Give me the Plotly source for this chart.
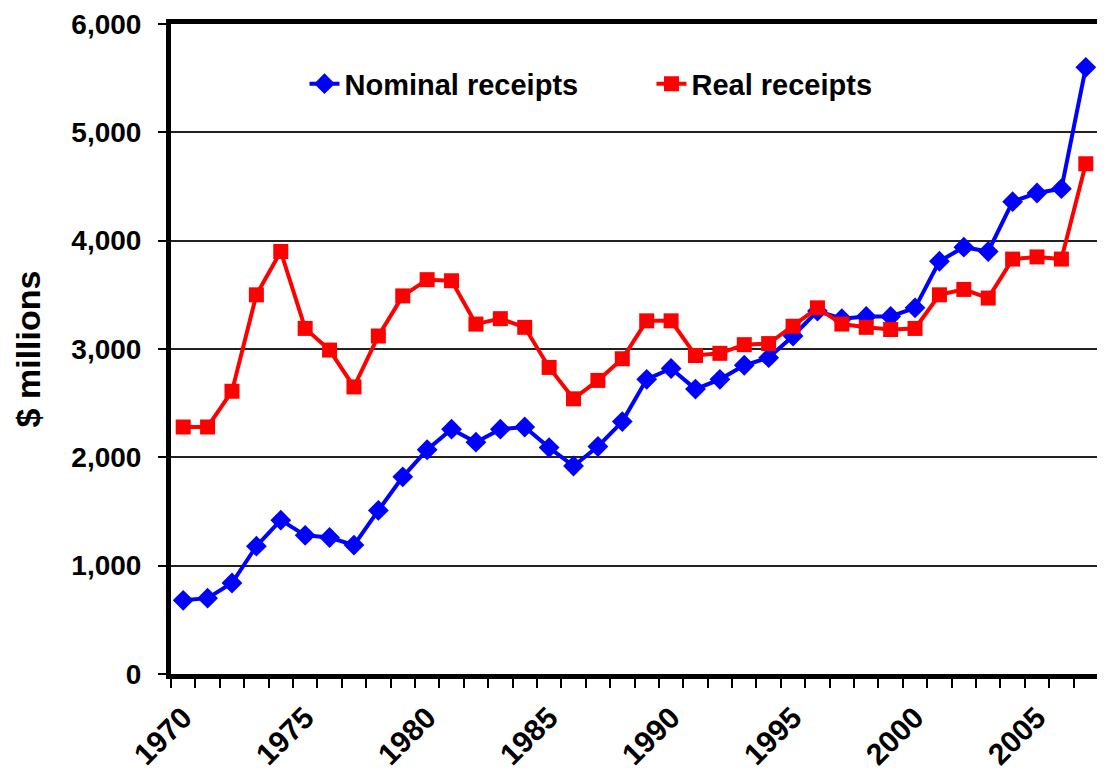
import plotly.graph_objects as go

years = list(range(1970, 2008))
nominal = [680, 700, 840, 1180, 1420, 1280, 1260, 1190, 1510, 1820,
           2070, 2260, 2140, 2260, 2280, 2090, 1920, 2100, 2330, 2720,
           2820, 2630, 2720, 2850, 2920, 3120, 3350, 3280, 3300, 3300,
           3380, 3810, 3940, 3900, 4360, 4440, 4480, 5600]
real = [2280, 2280, 2610, 3500, 3900, 3190, 2990, 2650, 3120, 3490,
        3640, 3630, 3230, 3280, 3200, 2830, 2540, 2710, 2910, 3260,
        3260, 2940, 2960, 3040, 3050, 3210, 3380, 3230, 3200, 3180,
        3190, 3500, 3550, 3470, 3830, 3850, 3830, 4710]
label_years = [1970, 1975, 1980, 1985, 1990, 1995, 2000, 2005]
y_ticks = [0, 1000, 2000, 3000, 4000, 5000, 6000]

FONT = "Arial, Liberation Sans, sans-serif"

fig = go.Figure()
fig.add_trace(go.Scatter(
    x=years, y=nominal, name="Nominal receipts", mode="lines+markers",
    line=dict(color="#0000FF", width=4),
    marker=dict(symbol="diamond", size=16, color="#0000FF"),
))
fig.add_trace(go.Scatter(
    x=years, y=real, name="Real receipts", mode="lines+markers",
    line=dict(color="#FF0000", width=4),
    marker=dict(symbol="square", size=15, color="#FF0000"),
))

fig.update_layout(
    width=1097, height=776,
    margin=dict(l=163, r=7, t=16, b=110),
    paper_bgcolor="white", plot_bgcolor="white",
    showlegend=True,
    legend=dict(
        orientation="h", x=0.144, y=0.908, xanchor="left", yanchor="middle",
        bgcolor="rgba(0,0,0,0)",
        font=dict(family=FONT, size=29, color="black", weight="bold"),
        entrywidth=302, entrywidthmode="pixels",
    ),
    xaxis=dict(
        range=[1969.5, 2007.5],
        automargin=False,
        tickmode="array", tickvals=label_years,
        ticktext=[str(v) for v in label_years],
        tickangle=-45,
        ticks="outside", ticklen=9, tickcolor="rgba(0,0,0,0)",
        tickfont=dict(family=FONT, size=30, color="black", weight="bold"),
        minor=dict(tickvals=[y - 0.5 for y in years] + [2007.5], ticks="outside",
                   ticklen=9, tickwidth=1.5, tickcolor="black", showgrid=False),
        showline=True, linewidth=5, linecolor="black", mirror=True,
        showgrid=False, zeroline=False,
    ),
    yaxis=dict(
        range=[0, 6000],
        automargin=False,
        tickmode="array", tickvals=y_ticks,
        ticktext=[f"{v:,}" for v in y_ticks],
        ticks="outside", ticklen=8, tickwidth=1.5, tickcolor="black",
        ticklabelstandoff=11, ticklabeloverflow="allow",
        tickfont=dict(family=FONT, size=28, color="black", weight="bold"),
        showline=True, linewidth=5, linecolor="black", mirror=True,
        showgrid=True, gridcolor="#222222", gridwidth=1.5,
        zeroline=False,
        title=dict(text="$ millions", standoff=22,
                   font=dict(family=FONT, size=34, color="black", weight="bold")),
    ),
)

fig.write_html("out.html")
